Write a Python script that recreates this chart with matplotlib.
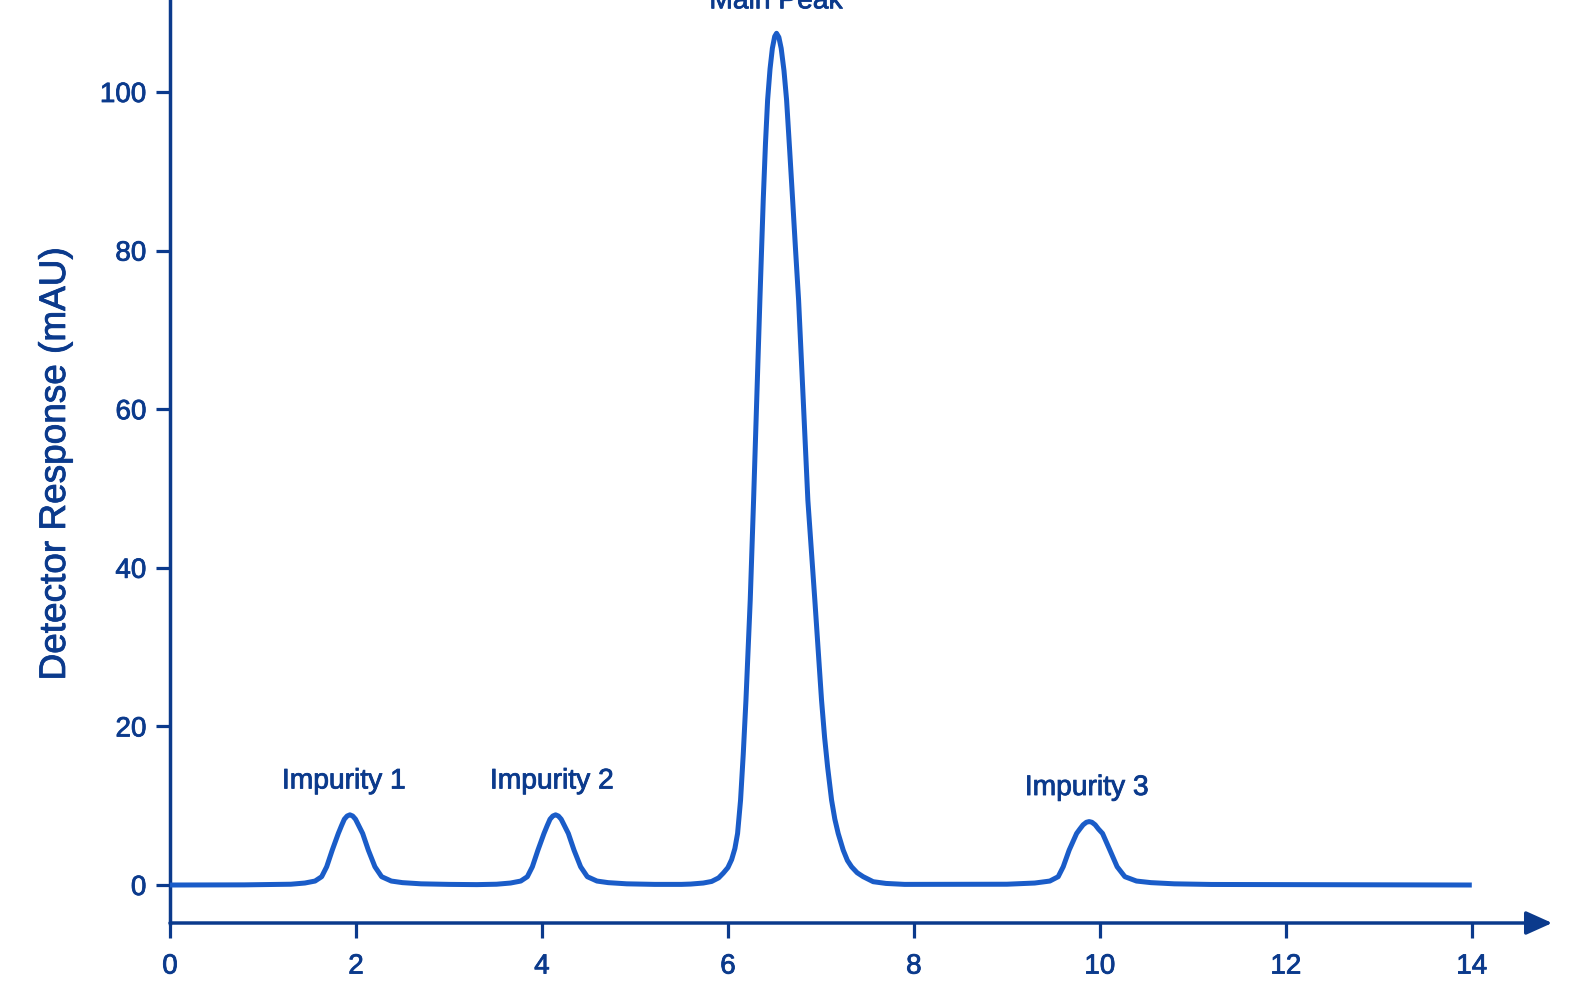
import matplotlib
matplotlib.use("Agg")
import matplotlib.pyplot as plt
import matplotlib.patheffects as pe

# ---- data ----
retention_time = [
    0.0, 0.8, 1.30, 1.45, 1.56, 1.631, 1.685, 1.745, 1.810, 1.845, 1.875, 1.905,
    1.935, 1.965, 1.995, 2.025, 2.072, 2.133, 2.204, 2.276, 2.38, 2.50, 2.70, 3.0,
    3.3, 3.512, 3.662, 3.772, 3.843, 3.897, 3.957, 4.022, 4.057, 4.087, 4.117,
    4.147, 4.177, 4.207, 4.237, 4.284, 4.345, 4.416, 4.488, 4.592, 4.712, 4.912,
    5.212,
    5.50, 5.60, 5.735, 5.825, 5.90, 5.95, 6.00, 6.04, 6.075, 6.104, 6.136, 6.165,
    6.194, 6.240, 6.276, 6.310, 6.344, 6.380, 6.404, 6.427, 6.453, 6.478, 6.503,
    6.523,
    6.548, 6.573, 6.603, 6.631, 6.665, 6.696, 6.728, 6.760, 6.810, 6.860,
    6.935, 7.007, 7.040, 7.072, 7.115, 7.150, 7.186, 7.240, 7.285, 7.330, 7.390,
    7.455, 7.562, 7.70, 7.90,
    9.0, 9.30, 9.462, 9.552, 9.606, 9.670, 9.750, 9.785, 9.820, 9.855, 9.885,
    9.915, 9.950, 9.985, 10.029, 10.108, 10.186, 10.269, 10.394, 10.55, 10.80,
    11.2, 14.0,
]
response = [
    0.0, 0.02, 0.1, 0.25, 0.5, 1.05, 2.3, 4.4, 6.5, 7.5, 8.3, 8.7,
    8.85, 8.7, 8.3, 7.6, 6.5, 4.4, 2.3, 1.05, 0.5, 0.3, 0.15, 0.08,
    0.05, 0.1, 0.25, 0.5, 1.05, 2.3, 4.4, 6.5, 7.5, 8.3, 8.7,
    8.85, 8.7, 8.3, 7.6, 6.5, 4.4, 2.3, 1.05, 0.5, 0.3, 0.15,
    0.08,
    0.08, 0.12, 0.25, 0.45, 0.9, 1.5, 2.2, 3.2, 4.6, 6.5, 10.7, 16.5,
    23.3, 35.9, 48.5, 61.2, 73.8, 86.4, 93.5, 99.0, 102.9, 105.5, 107.0,
    107.4,
    106.9, 105.5, 102.7, 99.0, 92.5, 86.4, 80.0, 73.8, 61.2, 48.5,
    35.9, 23.3, 18.6, 14.9, 10.7, 8.3, 6.5, 4.4, 3.1, 2.3, 1.55,
    1.05, 0.42, 0.2, 0.08,
    0.1, 0.25, 0.5, 1.05, 2.3, 4.4, 6.5, 7.06, 7.59, 7.91, 8.0,
    7.91, 7.59, 7.06, 6.5, 4.4, 2.3, 1.05, 0.5, 0.3, 0.15,
    0.07, 0.0,
]

peak_labels = ["Impurity 1", "Impurity 2", "Main Peak", "Impurity 3"]
label_x = [1.87, 4.107, 6.52, 9.86]
label_y = [12.18, 12.18, 110.55, 11.35]

x_ticks = [0, 2, 4, 6, 8, 10, 12, 14]
y_ticks = [0, 20, 40, 60, 80, 100]
y_label = "Detector Response (mAU)"

# ---- style ----
navy = "#0b3a8c"
curve_blue = "#1a5cc8"
plt.rcParams["font.family"] = ["Liberation Sans", "DejaVu Sans"]
heavier = [pe.withStroke(linewidth=0.6, foreground=navy)]

fig = plt.figure(figsize=(15.84, 9.82), dpi=100)
fig.patch.set_facecolor("white")
ax = fig.add_axes([0.10732, 0.06008, 0.9773 - 0.10732, 0.93992])

ax.plot(retention_time, response, color=curve_blue, lw=3.6,
        solid_joinstyle="round", solid_capstyle="butt", zorder=3)

ax.set_xlim(0, 14.82)
ax.set_ylim(-4.79, 111.6)

for s in ["top", "right", "bottom"]:
    ax.spines[s].set_visible(False)
ax.spines["left"].set_color(navy)
ax.spines["left"].set_linewidth(2.5)

ax.set_xticks(x_ticks)
ax.set_yticks(y_ticks)
ax.tick_params(axis="x", colors=navy, length=11, width=2.3, pad=11,
               labelsize=20)
ax.tick_params(axis="y", colors=navy, length=10, width=2.3, pad=7,
               labelsize=20)
for lab in ax.get_xticklabels() + ax.get_yticklabels():
    lab.set_color(navy)
    lab.set_path_effects(heavier)

# x axis drawn as an arrow
ax.annotate("", xy=(1.003, 0.0), xytext=(0.0, 0.0),
            xycoords="axes fraction", textcoords="axes fraction",
            arrowprops=dict(arrowstyle="-|>,head_length=0.8,head_width=0.36",
                            mutation_scale=20, color=navy, lw=2.5,
                            shrinkA=0, shrinkB=0),
            annotation_clip=False)

ax.set_ylabel(y_label, color=navy, fontsize=26.6, path_effects=heavier)
ax.yaxis.set_label_coords(-0.0704, 0.497)

for txt, lx, ly in zip(peak_labels, label_x, label_y):
    ax.text(lx, ly, txt, color=navy, fontsize=20.3, ha="center",
            va="baseline", clip_on=False, path_effects=heavier)

fig.savefig("out.png", dpi=100)
